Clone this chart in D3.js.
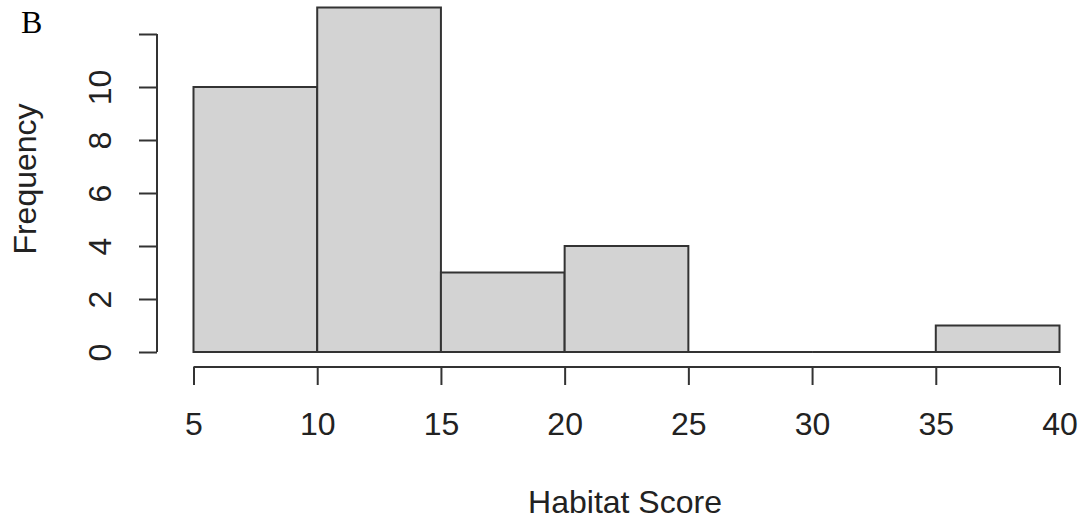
<!DOCTYPE html>
<html><head><meta charset="utf-8">
<script src="https://cdn.jsdelivr.net/npm/d3@7"></script>
<style>body{margin:0;background:#fff}svg{display:block}</style>
</head><body>
<script>
const binStarts = [5, 10, 15, 20, 25, 30, 35];
const binEnds = [10, 15, 20, 25, 30, 35, 40];
const frequencies = [10, 13, 3, 4, 0, 0, 1];
const xTicks = [5, 10, 15, 20, 25, 30, 35, 40];
const yTicks = [0, 2, 4, 6, 8, 10, 12];
const yTickLabels = ["0", "2", "4", "6", "8", "10", ""];

const W = 1081, H = 523;
const svg = d3.select("body").append("svg").attr("width", W).attr("height", H);
const x = d3.scaleLinear().domain([5, 40]).range([193.5, 1059.5]);
const y = d3.scaleLinear().domain([0, 10]).range([352, 87]);
const stroke = "#333";
const font = "'Liberation Sans', Arial, sans-serif";
const fs = 32;

// bars (drawn as closed paths so zero-height bins still show their outline)
svg.append("g").selectAll("path").data(frequencies).join("path")
  .attr("d", (d, i) => {
    const x0 = x(binStarts[i]), x1 = x(binEnds[i]), y0 = y(0), y1 = y(d);
    return `M${x0},${y0}V${y1}H${x1}V${y0}Z`;
  })
  .attr("fill", "#d3d3d3")
  .attr("stroke", stroke)
  .attr("stroke-width", 2);

// x axis
const xg = svg.append("g").attr("transform", "translate(0,367)");
xg.call(d3.axisBottom(x).tickValues(xTicks).tickSize(18).tickSizeOuter(0).tickPadding(27).tickFormat(d3.format("d")));
xg.select(".domain").attr("stroke", stroke).attr("stroke-width", 2).attr("d", `M${x(5)},0H${x(40)}`);
xg.selectAll(".tick line").attr("stroke", stroke).attr("stroke-width", 2);
xg.selectAll("text").attr("font-family", font).attr("font-size", fs).attr("fill", "#222");

// y axis
const yg = svg.append("g").attr("transform", "translate(157,0)");
yg.call(d3.axisLeft(y).tickValues(yTicks).tickSize(18).tickSizeOuter(0).tickPadding(0)
  .tickFormat((d, i) => yTickLabels[i]));
yg.select(".domain").attr("stroke", stroke).attr("stroke-width", 2).attr("d", `M0,${y(0)}V${y(12)}`);
yg.selectAll(".tick line").attr("stroke", stroke).attr("stroke-width", 2);
yg.selectAll(".tick text")
  .attr("x", null).attr("dy", null)
  .attr("transform", "translate(-57,0) rotate(-90)")
  .attr("text-anchor", "middle").attr("dominant-baseline", "central")
  .attr("font-family", font).attr("font-size", fs).attr("fill", "#222");

// axis titles
svg.append("text").attr("x", 625).attr("y", 513).attr("text-anchor", "middle")
  .attr("font-family", font).attr("font-size", fs).attr("fill", "#222").text("Habitat Score");
svg.append("text").attr("transform", "translate(36,179) rotate(-90)").attr("text-anchor", "middle")
  .attr("font-family", font).attr("font-size", fs).attr("fill", "#222").text("Frequency");

// panel letter
svg.append("text").attr("x", 21).attr("y", 33).attr("font-family", "'Liberation Serif', 'Times New Roman', serif")
  .attr("font-size", 32).attr("fill", "#000").text("B");
</script>
</body></html>
